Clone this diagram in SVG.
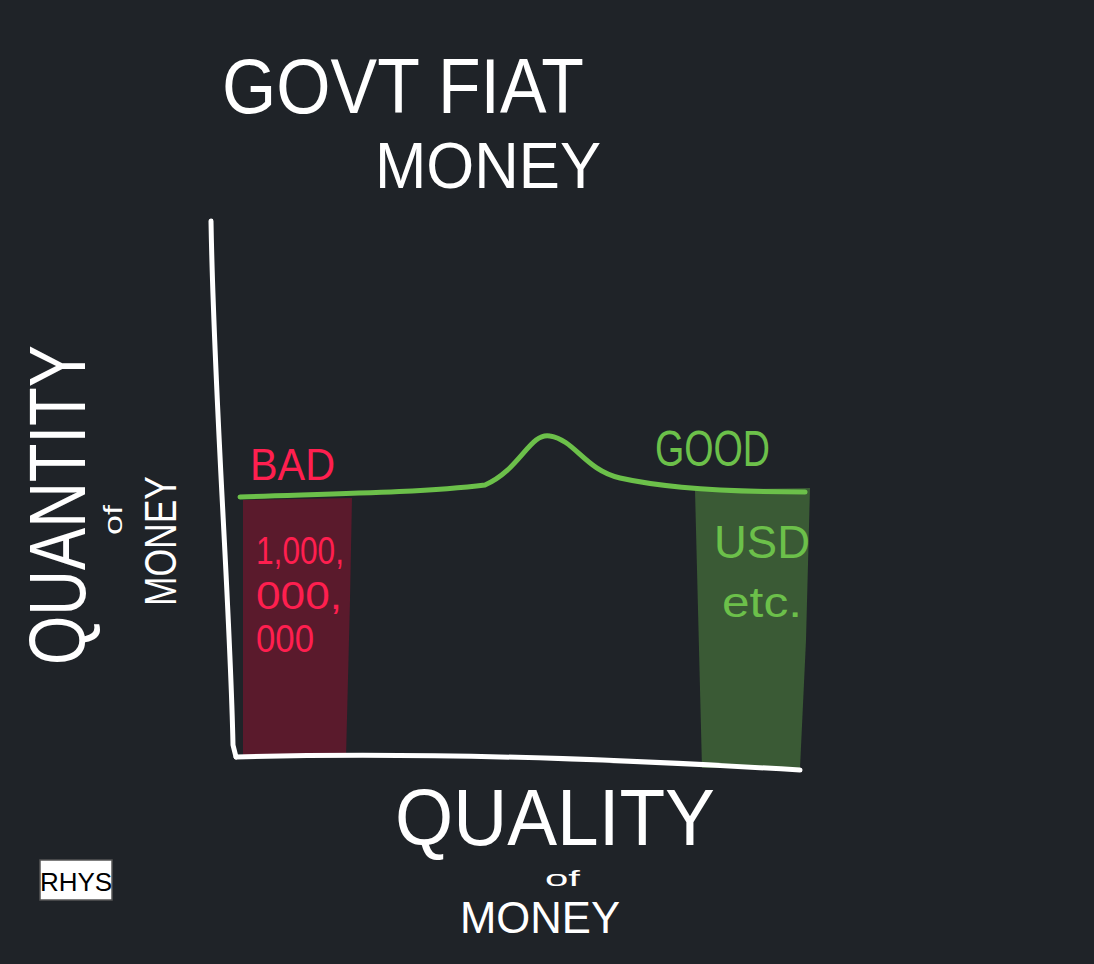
<svg xmlns="http://www.w3.org/2000/svg" width="1094" height="964" viewBox="0 0 1094 964">
<style>
.w{fill:#ffffff;font-family:"Liberation Sans",Arial,sans-serif;}
.r{fill:#ff1f4f;font-family:"Liberation Sans",Arial,sans-serif;}
.g{fill:#6cc04a;font-family:"Liberation Sans",Arial,sans-serif;}
.ax{fill:none;stroke:#ffffff;stroke-width:5;stroke-linecap:round;stroke-linejoin:round;}
</style>
<rect width="1094" height="964" fill="#1f2328"/>
<g id="title">
<text class="w" x="222" y="113" font-size="78" textLength="362" lengthAdjust="spacingAndGlyphs">GOVT FIAT</text>
<text class="w" x="375" y="188" font-size="64" textLength="226" lengthAdjust="spacingAndGlyphs">MONEY</text>
</g>
<g id="bad-bar">
<path d="M243,500 L352,498 L350,600 L346,757 L243,758 Z" fill="#5a1a2c"/>
<text class="r" x="250" y="480" font-size="44" textLength="85" lengthAdjust="spacingAndGlyphs">BAD</text>
<text class="r" x="256" y="564" font-size="38" textLength="88" lengthAdjust="spacingAndGlyphs">1,000,</text>
<text class="r" x="256" y="609" font-size="38" textLength="86" lengthAdjust="spacingAndGlyphs">000,</text>
<text class="r" x="256" y="652" font-size="38" textLength="58" lengthAdjust="spacingAndGlyphs">000</text>
</g>
<g id="good-bar">
<path d="M695,490 L810,488 L806,640 L800,768 L702,768 Z" fill="#3a5a35"/>
<text class="g" x="655" y="466" font-size="50" textLength="115" lengthAdjust="spacingAndGlyphs">GOOD</text>
<text class="g" x="714" y="558" font-size="46" textLength="96" lengthAdjust="spacingAndGlyphs">USD</text>
<text class="g" x="722" y="617" font-size="42" textLength="80" lengthAdjust="spacingAndGlyphs">etc.</text>
</g>
<g id="connectors">
<path class="ax" d="M211,221 C214,400 230,600 233,745 L236,757"/>
<path class="ax" d="M236,757 C400,752 600,758 800,770"/>
<path d="M240,497 C320,494 420,493 485,485 C520,470 530,432 550,436 C575,440 585,470 620,478 C660,487 720,492 805,492" fill="none" stroke="#6cc04a" stroke-width="5" stroke-linecap="round"/>
</g>
<g id="y-label">
<text class="w" transform="translate(85,665) rotate(-90)" font-size="80" textLength="320" lengthAdjust="spacingAndGlyphs">QUANTITY</text>
<text class="w" transform="translate(122,535) rotate(-90)" font-size="26" textLength="30" lengthAdjust="spacingAndGlyphs">of</text>
<text class="w" transform="translate(176,606) rotate(-90)" font-size="44" textLength="130" lengthAdjust="spacingAndGlyphs">MONEY</text>
</g>
<g id="x-label">
<text class="w" x="395" y="845" font-size="80" textLength="320" lengthAdjust="spacingAndGlyphs">QUALITY</text>
<text class="w" x="545" y="886" font-size="22" textLength="35" lengthAdjust="spacingAndGlyphs">of</text>
<text class="w" x="460" y="933" font-size="44" textLength="160" lengthAdjust="spacingAndGlyphs">MONEY</text>
</g>
<g id="rhys">
<rect x="40" y="860" width="72" height="40" fill="#ffffff" stroke="#555" stroke-width="1.5"/>
<text x="76" y="891" font-size="26" text-anchor="middle" font-family="Liberation Sans, Arial, sans-serif" fill="#000">RHYS</text>
</g>
</svg>
